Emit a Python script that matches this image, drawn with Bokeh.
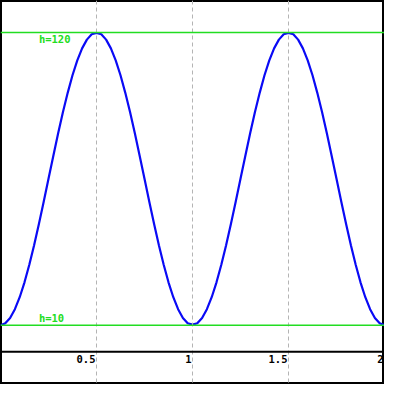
from bokeh.plotting import figure
from bokeh.models import Range1d, Span
from bokeh.core.properties import value
from bokeh.embed import file_html
from bokeh.resources import INLINE

# time values (x) and height values (h)
t = [0.0, 0.025, 0.05, 0.075, 0.1, 0.125, 0.15, 0.175, 0.2, 0.225,
     0.25, 0.275, 0.3, 0.325, 0.35, 0.375, 0.4, 0.425, 0.45, 0.475,
     0.5, 0.525, 0.55, 0.575, 0.6, 0.625, 0.65, 0.675, 0.7, 0.725,
     0.75, 0.775, 0.8, 0.825, 0.85, 0.875, 0.9, 0.925, 0.95, 0.975,
     1.0, 1.025, 1.05, 1.075, 1.1, 1.125, 1.15, 1.175, 1.2, 1.225,
     1.25, 1.275, 1.3, 1.325, 1.35, 1.375, 1.4, 1.425, 1.45, 1.475,
     1.5, 1.525, 1.55, 1.575, 1.6, 1.625, 1.65, 1.675, 1.7, 1.725,
     1.75, 1.775, 1.8, 1.825, 1.85, 1.875, 1.9, 1.925, 1.95, 1.975, 2.0]
h = [10.0, 10.7, 12.7, 16.0, 20.5, 26.1, 32.7, 40.0, 48.0, 56.4,
     65.0, 73.6, 82.0, 90.0, 97.3, 103.9, 109.5, 114.0, 117.3, 119.3,
     119.8, 119.3, 117.3, 114.0, 109.5, 103.9, 97.3, 90.0, 82.0, 73.6,
     65.0, 56.4, 48.0, 40.0, 32.7, 26.1, 20.5, 16.0, 12.7, 10.7,
     10.2, 10.7, 12.7, 16.0, 20.5, 26.1, 32.7, 40.0, 48.0, 56.4,
     65.0, 73.6, 82.0, 90.0, 97.3, 103.9, 109.5, 114.0, 117.3, 119.3,
     119.8, 119.3, 117.3, 114.0, 109.5, 103.9, 97.3, 90.0, 82.0, 73.6,
     65.0, 56.4, 48.0, 40.0, 32.7, 26.1, 20.5, 16.0, 12.7, 10.7, 10.0]

x_ticks = [0.5, 1, 1.5, 2]
x_tick_labels = ["0.5", "1", "1.5", "2"]
ref_levels = [10, 120]
ref_labels = ["h=10", "h=120"]

W = H = 384
Y_MIN, Y_MAX = -12.3, 132

p = figure(width=W, height=H, output_backend="svg", toolbar_location=None,
           x_range=Range1d(0, 2), y_range=Range1d(Y_MIN, Y_MAX),
           x_axis_type=None, y_axis_type=None, min_border=0,
           background_fill_color="white", border_fill_color="white")
p.outline_line_color = "black"
p.outline_line_width = 3

for xt in x_ticks:
    p.add_layout(Span(location=xt, dimension="height", line_color="#b4b4b4",
                      line_dash="4 3", line_width=1))

p.add_layout(Span(location=0, dimension="width", line_color="black", line_width=2))

GREEN = "#22dd22"
for lv in ref_levels:
    p.add_layout(Span(location=lv, dimension="width", line_color=GREEN, line_width=1.5))

p.line(t, h, line_color="#0a0af5", line_width=2.2)

font = value("DejaVu Sans Mono")
p.text(x=x_ticks, y=[-2.9] * len(x_ticks), text=x_tick_labels,
       text_align="right", text_baseline="middle", text_font=font,
       text_font_style="bold", text_font_size="10.5px", text_color="black",
       x_offset=-1)

p.text(x=[0.2], y=[ref_levels[0]], text=[ref_labels[0]], text_align="left",
       text_baseline="bottom", text_font=font, text_font_style="bold",
       text_font_size="10.5px", text_color=GREEN, y_offset=-1)
p.text(x=[0.2], y=[ref_levels[1]], text=[ref_labels[1]], text_align="left",
       text_baseline="top", text_font=font, text_font_style="bold",
       text_font_size="10.5px", text_color=GREEN, y_offset=1)

open("out.html", "w").write(file_html(p, INLINE))
